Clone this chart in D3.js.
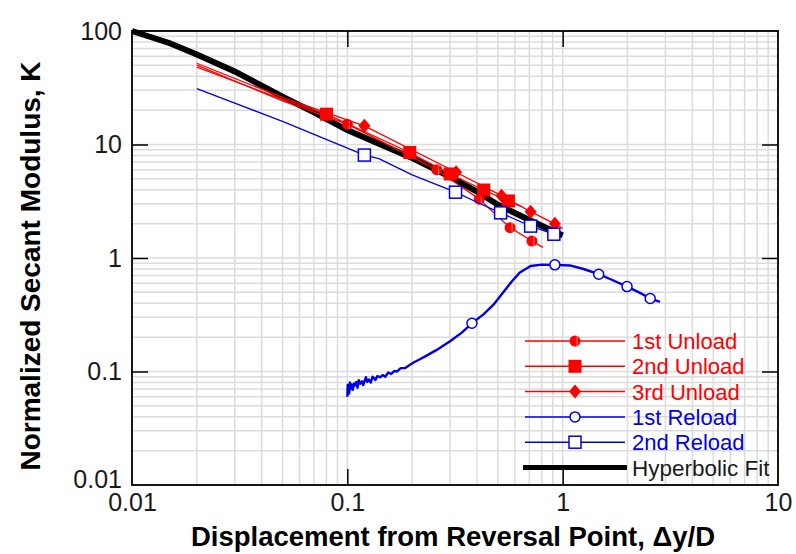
<!DOCTYPE html>
<html>
<head>
<meta charset="utf-8">
<script src="https://cdn.jsdelivr.net/npm/d3@7"></script>
<style>
  body { margin: 0; background: #fff; }
  text { font-family: Arial, "Liberation Sans", sans-serif; }
</style>
</head>
<body>
<div id="chart"></div>
<script>
// axis ticks
const xTicks = [0.01, 0.1, 1, 10];
const yTicks = [0.01, 0.1, 1, 10, 100];

// hyperbolic fit
const fitX = [0.01, 0.015, 0.02, 0.03, 0.05, 0.07, 0.1, 0.15, 0.2, 0.3, 0.4, 0.5, 0.7, 1.0];
const fitK = [100, 78, 62, 44, 26.4, 19.2, 13.4, 9.6, 7.6, 5.2, 3.85, 2.95, 2.16, 1.58];

// unload curves (line points and marker points)
const unload1X = [0.02, 0.05, 0.1, 0.26, 0.41, 0.57, 0.72, 0.81];
const unload1K = [50, 24.2, 15.1, 6.0, 3.3, 1.85, 1.41, 1.24];
const unload1MarkX = [0.1, 0.26, 0.41, 0.57, 0.72];
const unload1MarkK = [15.1, 6.0, 3.3, 1.85, 1.41];

const unload2X = [0.02, 0.05, 0.08, 0.195, 0.3, 0.43, 0.56, 0.64];
const unload2K = [48, 25, 18.5, 8.5, 5.5, 3.97, 3.18, 2.85];
const unload2MarkX = [0.08, 0.195, 0.3, 0.43, 0.56];
const unload2MarkK = [18.5, 8.5, 5.5, 3.97, 3.18];

const unload3X = [0.02, 0.05, 0.12, 0.32, 0.52, 0.71, 0.92, 1.0];
const unload3K = [52, 26, 14.6, 5.7, 3.54, 2.56, 2.0, 1.82];
const unload3MarkX = [0.12, 0.32, 0.52, 0.71, 0.92];
const unload3MarkK = [14.6, 5.7, 3.54, 2.56, 2.0];

// reload curves
const reload1X = [0.100, 0.1004, 0.101, 0.1013, 0.102, 0.1027, 0.104, 0.1046, 0.106, 0.1072, 0.108, 0.110,
  0.1115, 0.113, 0.1148, 0.117, 0.1185, 0.122, 0.1238, 0.126, 0.1285, 0.131, 0.135, 0.1375, 0.142, 0.146,
  0.150, 0.155, 0.160, 0.165, 0.170, 0.177, 0.185, 0.193, 0.203, 0.215, 0.23, 0.26, 0.30, 0.34, 0.379,
  0.43, 0.476, 0.53, 0.58, 0.63, 0.71, 0.80, 0.92, 1.08, 1.25, 1.47, 1.7, 1.99, 2.3, 2.55, 2.83];
const reload1K = [0.060, 0.076, 0.067, 0.072, 0.064, 0.080, 0.070, 0.077, 0.069, 0.078, 0.075, 0.081,
  0.072, 0.084, 0.078, 0.082, 0.076, 0.089, 0.081, 0.085, 0.080, 0.090, 0.084, 0.091, 0.089, 0.093,
  0.090, 0.098, 0.095, 0.101, 0.100, 0.107, 0.107, 0.113, 0.120, 0.127, 0.136, 0.155, 0.185, 0.22, 0.266,
  0.32, 0.386, 0.50, 0.62, 0.74, 0.85, 0.875, 0.87, 0.86, 0.80, 0.72, 0.64, 0.56, 0.49, 0.44, 0.41];
const reload1MarkX = [0.379, 0.92, 1.47, 1.99, 2.55];
const reload1MarkK = [0.266, 0.87, 0.72, 0.56, 0.44];

const reload2X = [0.02, 0.05, 0.12, 0.14, 0.2, 0.318, 0.4, 0.515, 0.71, 0.91];
const reload2K = [31, 16, 8.07, 7.5, 5.4, 3.8, 3.1, 2.5, 1.91, 1.62];
const reload2MarkX = [0.12, 0.318, 0.515, 0.71, 0.91];
const reload2MarkK = [8.07, 3.8, 2.5, 1.91, 1.62];

const legendNames = ["1st Unload", "2nd Unload", "3rd Unload", "1st Reload", "2nd Reload", "Hyperbolic Fit"];

const RED = "#ff0000", BLUE = "#0000e8";

const zip = (xs, ys) => xs.map((d, i) => ({ x: d, k: ys[i] }));

const series = [
  { line: zip(unload1X, unload1K), marks: zip(unload1MarkX, unload1MarkK), color: RED, marker: "hex", width: 1.3 },
  { line: zip(unload2X, unload2K), marks: zip(unload2MarkX, unload2MarkK), color: RED, marker: "square", width: 1.3 },
  { line: zip(unload3X, unload3K), marks: zip(unload3MarkX, unload3MarkK), color: RED, marker: "diamond", width: 1.3 },
  { line: zip(reload1X, reload1K), marks: zip(reload1MarkX, reload1MarkK), color: BLUE, marker: "circle", width: 2.4 },
  { line: zip(reload2X, reload2K), marks: zip(reload2MarkX, reload2MarkK), color: BLUE, marker: "osquare", width: 1.3 }
];

const W = 796, H = 554;
const margin = { top: 31, right: 18, bottom: 69, left: 132 };
const width = W - margin.left - margin.right;
const height = H - margin.top - margin.bottom;

const svg = d3.select("#chart").append("svg")
  .attr("width", W).attr("height", H);

const g = svg.append("g").attr("transform", `translate(${margin.left},${margin.top})`);

const x = d3.scaleLog().domain([0.01, 10]).range([0, width]);
const y = d3.scaleLog().domain([0.01, 100]).range([height, 0]);

// grid
g.append("g").selectAll("line").data(x.ticks()).join("line")
  .attr("x1", d => x(d)).attr("x2", d => x(d)).attr("y1", 0).attr("y2", height)
  .attr("stroke", "#dcdcdc").attr("stroke-width", 1.5);
g.append("g").selectAll("line").data(y.ticks()).join("line")
  .attr("y1", d => y(d)).attr("y2", d => y(d)).attr("x1", 0).attr("x2", width)
  .attr("stroke", "#dcdcdc").attr("stroke-width", 1.5);

// axes with inward ticks on all sides
const tickLen = 16;
const xAxis = d3.axisBottom(x).tickValues(xTicks).tickSize(-tickLen).tickPadding(8)
  .tickFormat(d => String(d));
const yAxis = d3.axisLeft(y).tickValues(yTicks).tickSize(-tickLen).tickPadding(10)
  .tickFormat(d => String(d));

const gx = g.append("g").attr("transform", `translate(0,${height})`).call(xAxis);
const gy = g.append("g").call(yAxis);
const gxt = g.append("g").call(d3.axisTop(x).tickValues(xTicks).tickSize(-tickLen).tickFormat(""));
const gyr = g.append("g").attr("transform", `translate(${width},0)`)
  .call(d3.axisRight(y).tickValues(yTicks).tickSize(-tickLen).tickFormat(""));

[gx, gy, gxt, gyr].forEach(a => {
  a.select(".domain").remove();
  a.selectAll(".tick line").attr("stroke", "#000").attr("stroke-width", 1.5);
  a.selectAll(".tick text").attr("fill", "#1a1a1a").style("font-size", "25px");
});
gx.selectAll(".tick line").filter(d => d === 0.01 || d === 10).remove();
gxt.selectAll(".tick line").filter(d => d === 0.01 || d === 10).remove();
gy.selectAll(".tick line").filter(d => d === 0.01 || d === 100).remove();
gyr.selectAll(".tick line").filter(d => d === 0.01 || d === 100).remove();
// bottom-left label sits a little above its gridline, as in the original
gy.selectAll(".tick text").filter(d => d === 0.01).attr("dy", "0.1em");

// frame
g.append("rect").attr("width", width).attr("height", height)
  .attr("fill", "none").attr("stroke", "#000").attr("stroke-width", 1.8);

const line = d3.line().x(d => x(d.x)).y(d => y(d.k));

// hyperbolic fit
g.append("path").datum(zip(fitX, fitK))
  .attr("d", line).attr("fill", "none").attr("stroke", "#000").attr("stroke-width", 6);

function drawMarker(sel, type, color) {
  if (type === "square") {
    sel.append("rect").attr("x", -6.5).attr("y", -6.5).attr("width", 13).attr("height", 13).attr("fill", color);
  } else if (type === "osquare") {
    sel.append("rect").attr("x", -6).attr("y", -6).attr("width", 12).attr("height", 12)
      .attr("fill", "#fff").attr("stroke", color).attr("stroke-width", 1.5);
  } else if (type === "diamond") {
    sel.append("path").attr("d", "M0,-7L6,0L0,7L-6,0Z").attr("fill", color);
  } else if (type === "circle") {
    sel.append("circle").attr("r", 5).attr("fill", "#fff").attr("stroke", color).attr("stroke-width", 1.5);
  } else {
    sel.append("circle").attr("r", 5.5).attr("fill", color);
    sel.append("line").attr("x1", 2).attr("x2", 2).attr("y1", -5).attr("y2", 5)
      .attr("stroke", "#ff8080").attr("stroke-width", 1);
  }
}

series.forEach(s => {
  g.append("path").datum(s.line)
    .attr("d", line).attr("fill", "none").attr("stroke", s.color)
    .attr("stroke-width", s.width).attr("stroke-linejoin", "round");
  g.append("g").selectAll("g").data(s.marks).join("g")
    .attr("transform", d => `translate(${x(d.x)},${y(d.k)})`)
    .each(function () { drawMarker(d3.select(this), s.marker, s.color); });
});

// legend
const legend = svg.append("g").attr("transform", "translate(525,341)");
legendNames.forEach((name, i) => {
  const row = legend.append("g").attr("transform", `translate(0,${i * 25.3})`);
  if (i < 5) {
    const s = series[i];
    row.append("line").attr("x1", 0).attr("x2", 100).attr("stroke", s.color).attr("stroke-width", 1.5);
    drawMarker(row.append("g").attr("transform", "translate(50,0)"), s.marker, s.color);
    row.append("text").attr("x", 107).attr("y", 8).attr("fill", s.color)
      .style("font-size", "22px").text(name);
  } else {
    row.append("line").attr("x1", -2).attr("x2", 102).attr("stroke", "#000").attr("stroke-width", 5);
    row.append("text").attr("x", 107).attr("y", 8).attr("fill", "#1a1a1a")
      .style("font-size", "22.5px").text(name);
  }
});

// axis titles
svg.append("text")
  .attr("x", margin.left + width / 2 - 2).attr("y", 546)
  .attr("text-anchor", "middle").style("font-size", "27.5px").style("font-weight", "bold")
  .text("Displacement from Reversal Point, \u0394y/D");
svg.append("text")
  .attr("transform", `translate(40,${margin.top + height / 2 + 8}) rotate(-90)`)
  .attr("text-anchor", "middle").style("font-size", "28px").style("font-weight", "bold")
  .text("Normalized Secant Modulus, K");
</script>
</body>
</html>
